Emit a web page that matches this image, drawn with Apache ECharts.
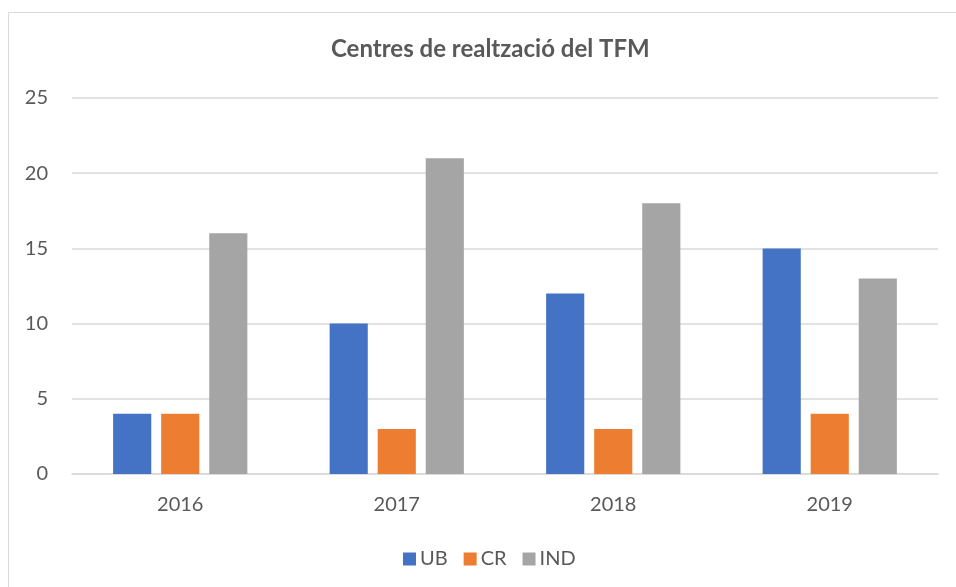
<!DOCTYPE html>
<html><head><meta charset="utf-8">
<script src="https://cdn.jsdelivr.net/npm/echarts@6/dist/echarts.min.js"></script>
<style>html,body{margin:0;padding:0;background:#fff}#c{width:956px;height:587px}</style>
</head><body><div id="c"></div>
<script>
const categories = ['2016', '2017', '2018', '2019'];
const ub = [4, 10, 12, 15];
const cr = [4, 3, 3, 4];
const ind = [16, 21, 18, 13];
const yTicks = { min: 0, max: 25, interval: 5 };

const chart = echarts.init(document.getElementById('c'));
const font = 'Lato, "Open Sans", sans-serif';
chart.setOption({
  animation: false,
  textStyle: { fontFamily: font },
  title: { text: 'Centres de realtzació del TFM', left: 326, top: 32,
    textStyle: { fontFamily: font, fontSize: 24, fontWeight: 'bold', color: '#595959' } },
  graphic: [{ type: 'rect', shape: { x: 8.5, y: 12.5, width: 1000, height: 1000 },
    style: { fill: 'none', stroke: '#d9d9d9', lineWidth: 1 }, silent: true }],
  legend: { bottom: 13, left: 398, itemWidth: 13, itemHeight: 13, itemGap: 16,
    icon: 'rect', textStyle: { fontFamily: font, fontSize: 20, color: '#595959', padding: [0,0,0,-1] } },
  grid: { left: 72, right: 18, top: 98, bottom: 113, containLabel: false },
  xAxis: { type: 'category', data: categories,
    axisLine: { lineStyle: { color: '#d9d9d9', width: 1.5 } }, axisTick: { show: false },
    axisLabel: { fontFamily: font, fontSize: 20, color: '#595959', margin: 21 } },
  yAxis: { type: 'value', min: yTicks.min, max: yTicks.max, interval: yTicks.interval,
    axisLine: { show: false }, axisTick: { show: false },
    splitLine: { lineStyle: { color: '#d9d9d9', width: 1.5 } },
    axisLabel: { fontFamily: font, fontSize: 20, color: '#595959', margin: 24 } },
  series: [
    { name: 'UB', type: 'bar', data: ub, itemStyle: { color: '#4472c4' }, barGap: '26%', barCategoryGap: '38%' },
    { name: 'CR', type: 'bar', data: cr, itemStyle: { color: '#ed7d31' } },
    { name: 'IND', type: 'bar', data: ind, itemStyle: { color: '#a5a5a5' } }
  ]
});
</script></body></html>
